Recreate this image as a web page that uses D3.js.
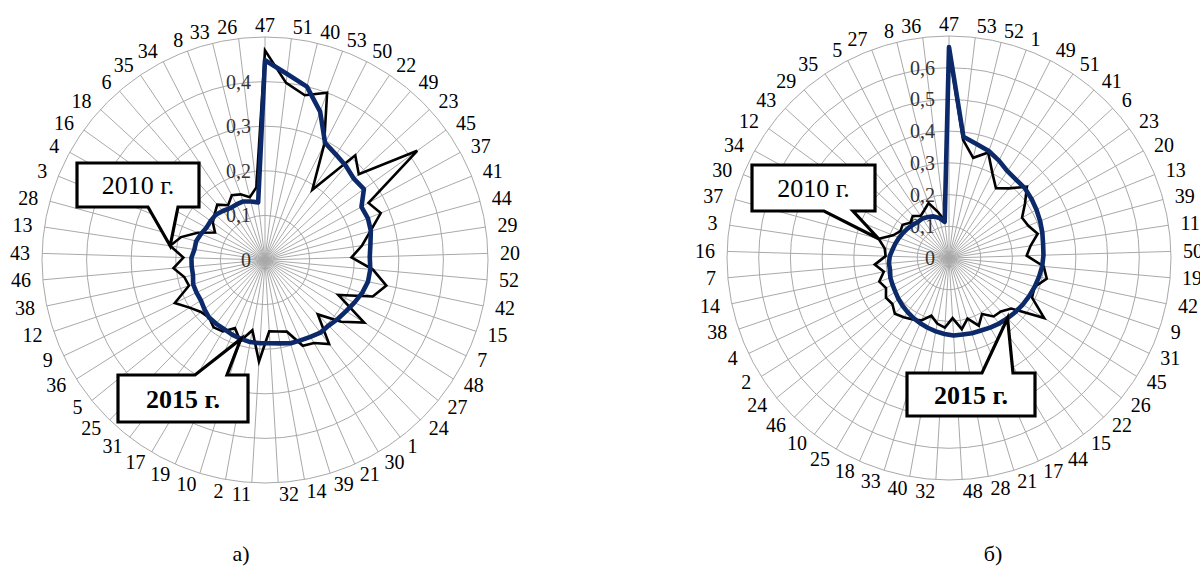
<!DOCTYPE html>
<html><head><meta charset="utf-8">
<script src="https://cdn.jsdelivr.net/npm/d3@7"></script>
<style>body{margin:0;background:#fff}svg{display:block}text{font-family:"Liberation Serif","Tinos","Times New Roman","DejaVu Serif",serif}</style>
</head><body><svg id="c" width="1200" height="573"></svg>
<script>
// ---- chart а) ----
const catsA = [47,51,40,53,50,22,49,23,45,37,41,44,29,20,52,42,15,7,48,27,24,1,30,21,39,14,32,11,2,10,19,17,31,25,5,36,9,12,38,46,43,13,28,3,4,16,18,6,35,34,8,33,26];
const valsA2010 = [0.47,0.40,0.38,0.40,0.29,0.19,0.31,0.285,0.42,0.265,0.28,0.245,0.22,0.194,0.243,0.278,0.255,0.182,0.263,0.22,0.17,0.237,0.216,0.21,0.168,0.163,0.16,0.228,0.16,0.19,0.167,0.186,0.19,0.18,0.185,0.2,0.224,0.18,0.185,0.206,0.183,0.215,0.195,0.163,0.128,0.144,0.153,0.164,0.148,0.163,0.157,0.145,0.164];
const valsA2015 = [0.448,0.42,0.40,0.355,0.295,0.285,0.278,0.27,0.273,0.247,0.249,0.246,0.239,0.235,0.237,0.236,0.23,0.222,0.215,0.21,0.205,0.205,0.2,0.197,0.195,0.19,0.187,0.187,0.187,0.185,0.183,0.18,0.18,0.18,0.175,0.17,0.17,0.17,0.165,0.165,0.165,0.16,0.16,0.155,0.15,0.15,0.15,0.145,0.14,0.14,0.14,0.135,0.13];
const ringsA = [0.1,0.2,0.3,0.4,0.5];
const tickLabelsA = ["0","0,1","0,2","0,3","0,4"];

// ---- chart б) ----
const catsB = [47,53,52,1,49,51,41,6,23,20,13,39,11,50,19,42,9,31,45,26,22,15,44,17,21,28,48,32,40,33,18,25,10,46,24,2,4,38,14,7,16,3,37,30,34,12,43,29,35,5,27,8,36];
const valsB2010 = [0.655,0.375,0.325,0.355,0.30,0.265,0.29,0.333,0.295,0.263,0.27,0.29,0.26,0.245,0.30,0.315,0.285,0.29,0.355,0.253,0.235,0.232,0.205,0.233,0.2,0.228,0.19,0.22,0.21,0.19,0.215,0.225,0.235,0.245,0.23,0.235,0.22,0.232,0.21,0.235,0.2,0.205,0.23,0.19,0.175,0.18,0.165,0.175,0.16,0.17,0.185,0.15,0.12];
const valsB2015 = [0.665,0.385,0.37,0.36,0.345,0.33,0.325,0.325,0.32,0.315,0.31,0.305,0.30,0.298,0.295,0.29,0.285,0.28,0.275,0.27,0.265,0.26,0.255,0.25,0.248,0.245,0.245,0.24,0.235,0.23,0.225,0.22,0.215,0.21,0.205,0.2,0.197,0.195,0.19,0.19,0.187,0.18,0.175,0.17,0.165,0.16,0.155,0.15,0.15,0.145,0.14,0.13,0.115];
const ringsB = [0.1,0.2,0.3,0.4,0.5,0.6,0.7];
const tickLabelsB = ["0","0,1","0,2","0,3","0,4","0,5","0,6"];

const seriesNames = ["2010 г.","2015 г."];
const captions = ["а)","б)"];

const svg = d3.select("#c");

function radar(o){
  const g = svg.append("g").attr("transform",`translate(${o.cx},${o.cy})`);
  const n = o.cats.length;
  const ang = d3.scaleLinear().domain([0,n]).range([0,2*Math.PI]);
  const r = d3.scaleLinear().domain([0,o.max]).range([0,o.R]);
  g.selectAll("circle.ring").data(o.rings).join("circle")
    .attr("r",d=>r(d)).attr("fill","none").attr("stroke","#a9a9a9").attr("stroke-width",1);
  g.selectAll("line.sp").data(o.cats).join("line")
    .attr("x1",0).attr("y1",0)
    .attr("x2",(d,i)=>o.R*Math.sin(ang(i))).attr("y2",(d,i)=>-o.R*Math.cos(ang(i)))
    .attr("stroke","#a9a9a9").attr("stroke-width",1);
  g.selectAll("text.cat").data(o.cats).join("text")
    .attr("x",(d,i)=>(o.R+12)*Math.sin(ang(i)))
    .attr("y",(d,i)=>-(o.R+5)*Math.cos(ang(i)))
    .attr("dy",(d,i)=>(0.33*(1-Math.cos(ang(i))))+"em")
    .attr("text-anchor",(d,i)=>{const s=Math.sin(ang(i));return s>0.03?"start":(s<-0.03?"end":"middle");})
    .attr("font-size",20).attr("fill","#000")
    .text(d=>d);
  g.selectAll("text.tk").data(o.ticks).join("text")
    .attr("x",-14).attr("y",(d,i)=>-r(i/10)).attr("dy","0.35em")
    .attr("text-anchor","end").attr("font-size",20).attr("fill","#333")
    .text(d=>d);
  const line = d3.lineRadial().angle((d,i)=>ang(i)).radius(d=>r(d)).curve(d3.curveLinearClosed);
  g.append("path").datum(o.v2010).attr("d",line).attr("fill","none")
    .attr("stroke","#000").attr("stroke-width",2.6).attr("stroke-linejoin","miter");
  g.append("path").datum(o.v2015).attr("d",line).attr("fill","none")
    .attr("stroke","#0c2a6a").attr("stroke-width",4.6).attr("stroke-linejoin","round");
  o.callouts.forEach(c=>{
    const vals = c.series===0?o.v2010:o.v2015;
    const tx = o.cx + r(vals[c.idx])*Math.sin(ang(c.idx));
    const ty = o.cy - r(vals[c.idx])*Math.cos(ang(c.idx));
    const b=c.box; const x0=b[0],y0=b[1],x1=b[2],y1=b[3];
    let p;
    if(c.side==="bottom"){
      p=`M${x0},${y0}H${x1}V${y1}H${c.base[1]}L${tx},${ty}L${c.base[0]},${y1}H${x0}Z`;
    } else {
      p=`M${x0},${y0}H${c.base[0]}L${tx},${ty}L${c.base[1]},${y0}H${x1}V${y1}H${x0}Z`;
    }
    svg.append("path").attr("d",p).attr("fill","#fff").attr("stroke","#000")
      .attr("stroke-width",3.2).attr("stroke-linejoin","miter");
    svg.append("text").attr("x",(x0+x1)/2).attr("y",(y0+y1)/2).attr("dy","0.35em")
      .attr("text-anchor","middle").attr("font-size",26)
      .attr("font-weight",c.series===1?"bold":"normal").text(seriesNames[c.series]);
  });
  svg.append("text").attr("x",o.capX).attr("y",553).attr("dy","0.35em").attr("text-anchor","middle")
    .attr("font-size",22).text(o.caption);
}

radar({cx:265,cy:260,R:223,max:0.5,cats:catsA,v2010:valsA2010,v2015:valsA2015,rings:ringsA,ticks:tickLabelsA,
  caption:captions[0],capX:241,
  callouts:[
    {series:0,idx:41,side:"bottom",box:[77,163,199,207],base:[148,178]},
    {series:1,idx:29,side:"top",box:[118,375,248,422],base:[195,227]}
  ]});
radar({cx:949,cy:258,R:222,max:0.7,cats:catsB,v2010:valsB2010,v2015:valsB2015,rings:ringsB,ticks:tickLabelsB,
  caption:captions[1],capX:993,
  callouts:[
    {series:0,idx:42,side:"bottom",box:[752,165,875,211],base:[824,853]},
    {series:1,idx:20,side:"top",box:[907,373,1035,416],base:[982,1013]}
  ]});
</script></body></html>
